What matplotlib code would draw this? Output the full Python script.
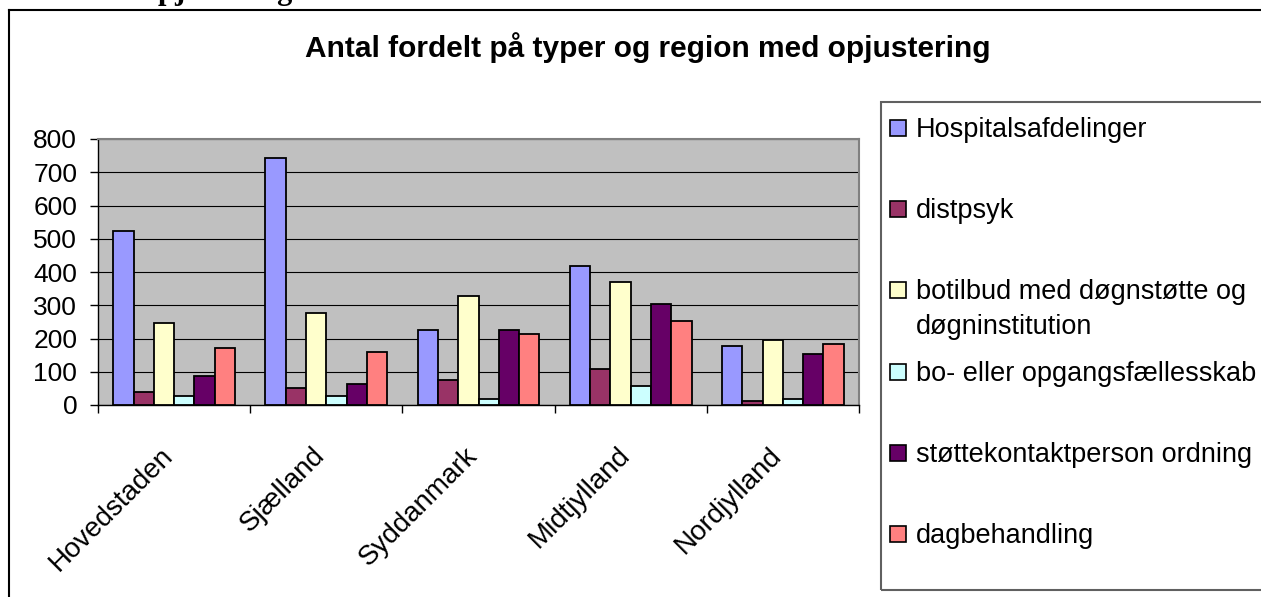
import matplotlib
matplotlib.use('Agg')
import matplotlib.pyplot as plt
import numpy as np
from matplotlib.patches import Rectangle
from matplotlib.lines import Line2D

regions = ['Hovedstaden', 'Sjælland', 'Syddanmark', 'Midtjylland', 'Nordjylland']
series = ['Hospitalsafdelinger', 'distpsyk',
          'botilbud med døgnstøtte og\ndøgninstitution',
          'bo- eller opgangsfællesskab', 'støttekontaktperson ordning',
          'dagbehandling']
hospital = [522, 743, 227, 417, 176]
distpsyk = [38, 52, 76, 108, 13]
botilbud = [246, 278, 327, 371, 196]
bofaelles = [26, 26, 19, 57, 19]
stoette = [88, 63, 227, 303, 152]
dagbehandling = [171, 159, 214, 253, 183]
values = [hospital, distpsyk, botilbud, bofaelles, stoette, dagbehandling]
colors = ['#9999FF', '#993366', '#FFFFCC', '#CCFFFF', '#660066', '#FF8080']
yticks = list(range(0, 801, 100))

W, H = 1261, 597
plt.rcParams['font.family'] = ['Liberation Sans', 'DejaVu Sans']


def fx(px):
    return px / W


def fy(py):
    return 1 - py / H


fig = plt.figure(figsize=(W / 100, H / 100), dpi=100)

# outer chart frame (only top and left edges are inside the screenshot)
fig.add_artist(Line2D([fx(9), fx(9)], [fy(10), 0], color='black', lw=1.5))
fig.add_artist(Line2D([fx(9), 1], [fy(10), fy(10)], color='black', lw=1.5))

# heading above the chart, cut off by the top edge as in the screenshot
fig.text(fx(292), fy(-1.5), 'Med opjustering', ha='right', va='baseline',
         family=['Liberation Serif', 'DejaVu Serif'], weight='bold', fontsize=22)

fig.text(fx(648), fy(57), 'Antal fordelt på typer og region med opjustering',
         ha='center', va='baseline', weight='bold', fontsize=21.5)

ax = fig.add_axes([fx(98), fy(405), (859 - 98) / W, (405 - 139) / H])
ax.set_facecolor('#C0C0C0')

x = np.arange(len(regions))
w = 1 / 7.5
for i, (vals, col) in enumerate(zip(values, colors)):
    ax.bar(x + (i - 2.5) * w, vals, w, color=col, edgecolor='black',
           linewidth=1.3, zorder=3)

ax.set_xlim(-0.5, len(regions) - 0.5)
ax.set_ylim(0, 800)
ax.set_yticks(yticks)
ax.yaxis.grid(True, color='black', linewidth=0.8)
ax.set_axisbelow(True)

for side in ['top', 'right']:
    ax.spines[side].set_color('#808080')
    ax.spines[side].set_linewidth(1.5)
for side in ['left', 'bottom']:
    ax.spines[side].set_color('black')
    ax.spines[side].set_linewidth(1.0)

ax.tick_params(axis='y', direction='out', length=6, width=1, labelsize=19, pad=9)
ax.set_xticks(x)
ax.set_xticklabels(regions)
ax.set_xticks(np.arange(-0.5, len(regions), 1), minor=True)
ax.tick_params(axis='x', which='major', length=0, labelsize=20, pad=37)
ax.tick_params(axis='x', which='minor', direction='out', length=6, width=1)
for lab in ax.get_xticklabels():
    lab.set_rotation(45)
    lab.set_ha('right')
    lab.set_va('baseline')
    lab.set_rotation_mode('anchor')

# legend box, drawn by hand so the two-line entry keeps its marker on line one
fig.add_artist(Rectangle((fx(881), fy(590)), (W - 881 + 60) / W, (590 - 102) / H,
                         transform=fig.transFigure, fill=False,
                         edgecolor='#606060', lw=1.5))
for i, (name, col) in enumerate(zip(series, colors)):
    base = 137 + i * 81.2
    fig.add_artist(Rectangle((fx(890), fy(base - 1)), 16 / W, 16 / H,
                             transform=fig.transFigure, facecolor=col,
                             edgecolor='black', lw=1.2))
    for k, line in enumerate(name.split('\n')):
        fig.text(fx(916), fy(base + k * 35), line, ha='left', va='baseline',
                 fontsize=19.5)

fig.savefig('out.png', dpi=100)
